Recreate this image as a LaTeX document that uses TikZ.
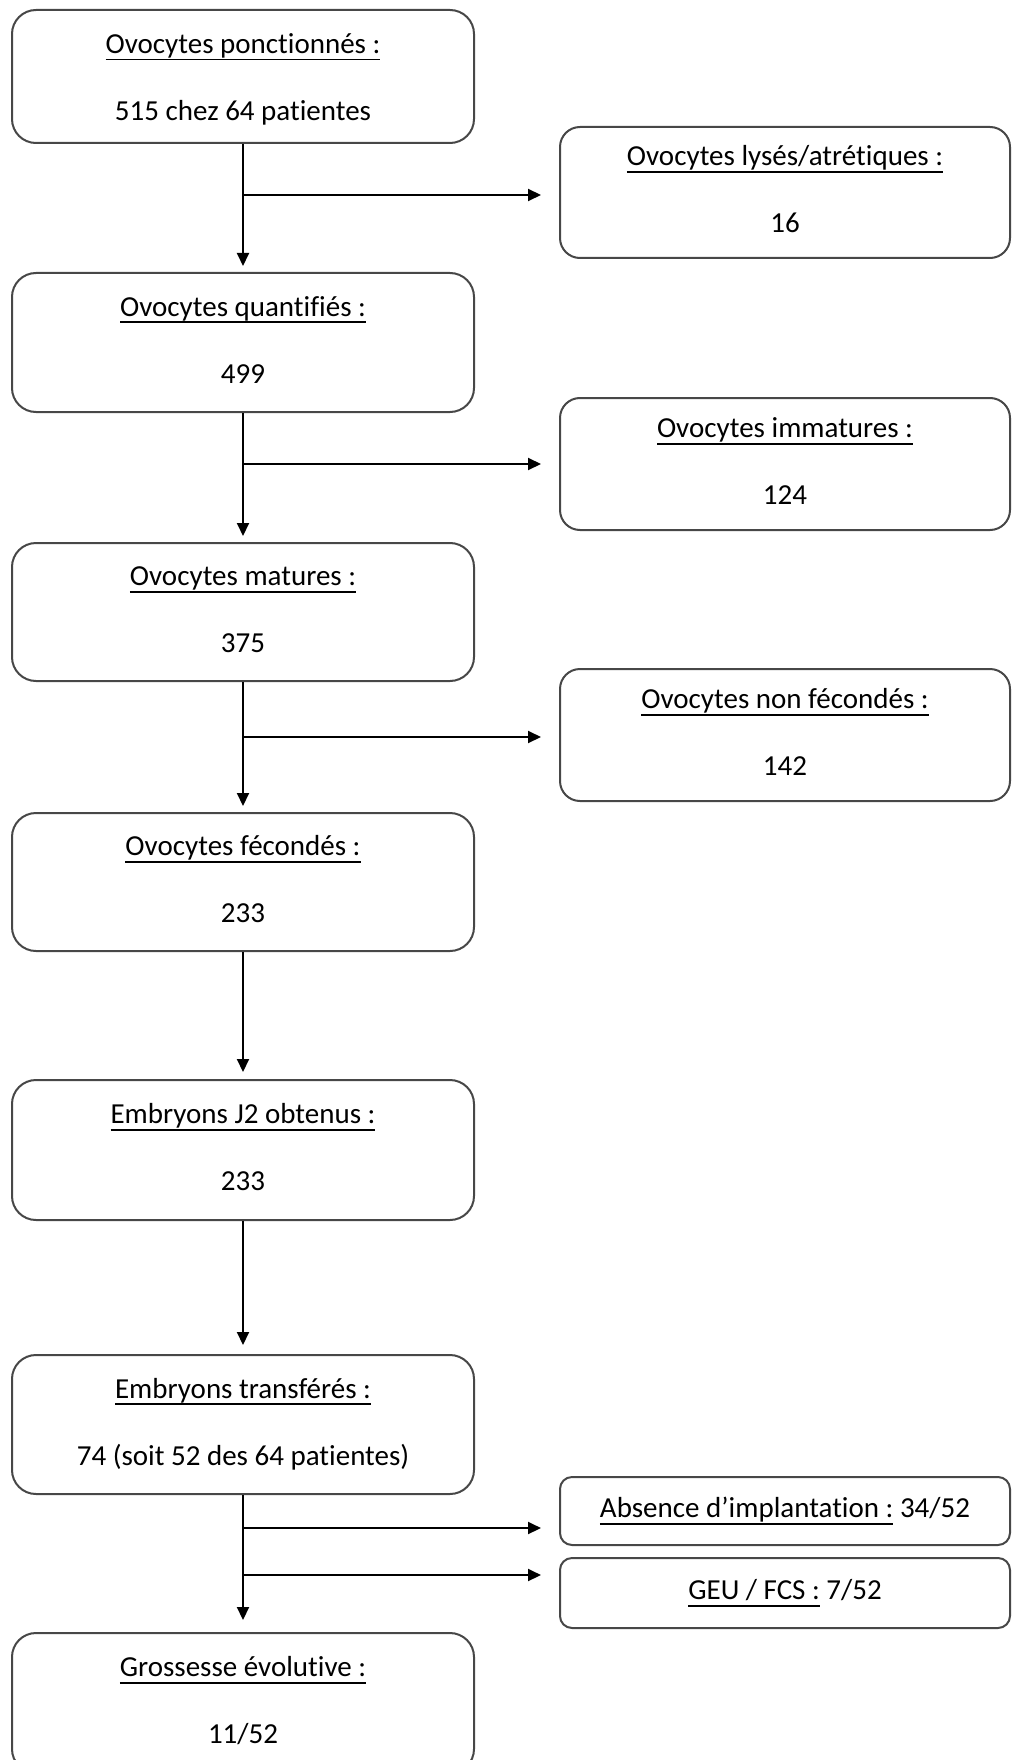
\documentclass[tikz,border=0pt]{standalone}
\usepackage{fontspec}
\setmainfont{Carlito}[Ligatures={NoCommon,NoRare,NoDiscretionary}]
\newsavebox\ulsave
\newcommand\ulbox[1]{\sbox\ulsave{#1}\rlap{\rule[-7pt]{\wd\ulsave}{1.6pt}}\usebox\ulsave}
\usetikzlibrary{arrows.meta}
\begin{document}
\begin{tikzpicture}[x=1pt,y=-1pt,
  box/.style={draw=black!72, line width=2pt, align=center, inner sep=0pt,
    font=\fontsize{29}{35}\selectfont},
  mainbox/.style={box, rounded corners=24pt, minimum width=462pt},
  sidebox/.style={box, rounded corners=20pt, minimum width=450pt},
  smallbox/.style={box, rounded corners=12pt, minimum width=450pt},
  arr/.style={draw=black, line width=2pt, -{Triangle[length=13pt,width=12pt]}},
]
\useasboundingbox (0,0) rectangle (1012,1760);

% main column
\node[mainbox, minimum height=133pt] (b1) at (243,76.5)
  {\rule{0pt}{31pt}\ulbox{Ovocytes ponctionnés :}\\[32pt]515 chez 64 patientes\strut};
\node[mainbox, minimum height=139pt] (b2) at (243,342.5)
  {\ulbox{Ovocytes quantifiés :}\strut\\[32pt]499\strut};
\node[mainbox, minimum height=138pt] (b3) at (243,612)
  {\ulbox{Ovocytes matures :}\strut\\[32pt]375\strut};
\node[mainbox, minimum height=138pt] (b4) at (243,882)
  {\ulbox{Ovocytes fécondés :}\strut\\[32pt]233\strut};
\node[mainbox, minimum height=140pt] (b5) at (243,1150)
  {\ulbox{Embryons J2 obtenus :}\strut\\[32pt]233\strut};
\node[mainbox, minimum height=139pt] (b6) at (243,1424.5)
  {\ulbox{Embryons transférés :}\strut\\[32pt]74 (soit 52 des 64 patientes)\strut};
\node[mainbox, minimum height=140pt] (b7) at (243,1703)
  {\ulbox{Grossesse évolutive :}\strut\\[32pt]11/52\strut};

% side column
\node[sidebox, minimum height=131pt] (r1) at (785,192.5)
  {\ulbox{Ovocytes lysés/atrétiques :}\strut\\[32pt]16\strut};
\node[sidebox, minimum height=132pt] (r2) at (785,464)
  {\ulbox{Ovocytes immatures :}\strut\\[32pt]124\strut};
\node[sidebox, minimum height=132pt] (r3) at (785,735)
  {\ulbox{Ovocytes non fécondés :}\strut\\[32pt]142\strut};
\node[smallbox, minimum height=68pt] (r4) at (785,1511)
  {\ulbox{Absence d’implantation :} 34/52};
\node[smallbox, minimum height=70pt] (r5) at (785,1593)
  {\ulbox{GEU / FCS :} 7/52};

% branch points
\coordinate (j1) at (243,195);
\coordinate (j2) at (243,464);
\coordinate (j3) at (243,737);
\coordinate (j4) at (243,1528);
\coordinate (j5) at (243,1575);

% vertical connectors
\draw[arr, shorten >=6pt] (b1.south) -- (b2.north);
\draw[arr, shorten >=6pt] (b2.south) -- (b3.north);
\draw[arr, shorten >=6pt] (b3.south) -- (b4.north);
\draw[arr, shorten >=7pt] (b4.south) -- (b5.north);
\draw[arr, shorten >=9pt] (b5.south) -- (b6.north);
\draw[arr, shorten >=12pt] (b6.south) -- (b7.north);

% side branches
\draw[arr, shorten >=18pt] (j1) -- (j1 -| r1.west);
\draw[arr, shorten >=18pt] (j2) -- (j2 -| r2.west);
\draw[arr, shorten >=18pt] (j3) -- (j3 -| r3.west);
\draw[arr, shorten >=18pt] (j4) -- (j4 -| r4.west);
\draw[arr, shorten >=18pt] (j5) -- (j5 -| r5.west);
\end{tikzpicture}
\end{document}
